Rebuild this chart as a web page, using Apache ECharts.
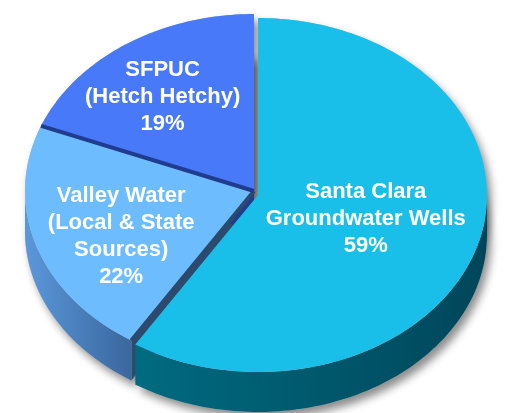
<!DOCTYPE html>
<html>
<head>
<meta charset="utf-8">
<script src="https://cdn.jsdelivr.net/npm/echarts@6/dist/echarts.min.js"></script>
<style>
html, body { margin: 0; padding: 0; background: #fff; }
#chart { width: 510px; height: 413px; }
</style>
</head>
<body>
<div id="chart"></div>
<script>
// data
const names = ['Santa Clara\nGroundwater Wells', 'Valley Water\n(Local & State\nSources)', 'SFPUC\n(Hetch Hetchy)'];
const values = [59, 22, 19];

// styles
const topColors = ['#19bfe9', '#6dbcfd', '#4779f9'];
const wallColors = [['#006b80', '#00465a'], ['#5a98dc', '#3a679d'], ['#3a62c8', '#2a4a9a']];
const faceColors = ['#0a4f66', '#2b4a6e', '#1f3c8e'];
const explode = [[4, 4], [0, 0], [0, 0]];
const labelR = [0.49, 0.61, 0.71];
const labelDy = [0, 12, 10];

const CX = 254, CY = 191, RX = 229, RY = 177, DEPTH = 40;
const total = values.reduce((a, b) => a + b, 0);
const starts = [];
let acc = 0;
values.forEach(v => { starts.push(acc / total * Math.PI * 2); acc += v; });

// angle measured clockwise from 12 o'clock, squashed to an ellipse
function pt(t, ox, oy, dz) {
  return [CX + ox + RX * Math.sin(t), CY + oy - RY * Math.cos(t) + (dz || 0)];
}
function arc(t1, t2, ox, oy, dz) {
  const n = Math.max(2, Math.ceil((t2 - t1) / 0.02));
  const pts = [];
  for (let k = 0; k <= n; k++) pts.push(pt(t1 + (t2 - t1) * k / n, ox, oy, dz));
  return pts;
}

function renderItem(params, api) {
  const i = params.dataIndex;
  const v = api.value(0);
  const t1 = starts[i];
  const t2 = t1 + v / total * Math.PI * 2;
  const ox = explode[i][0], oy = explode[i][1];
  const apex = [CX + ox, CY + oy];
  const children = [];

  const top = [apex].concat(arc(t1, t2, ox, oy, 0));

  // drop shadow under the slice
  [0, DEPTH].forEach(dz => {
    children.push({
      type: 'polygon', z2: 0, silent: true,
      shape: { points: top.map(p => [p[0], p[1] + dz]) },
      style: { fill: '#bdbdbd', shadowBlur: 9, shadowColor: 'rgba(0,0,0,0.45)', shadowOffsetX: 4, shadowOffsetY: 6 }
    });
  });

  // cut faces that look toward the viewer
  const faces = [];
  if (Math.sin(t1) < -1e-6) faces.push(t1);
  if (Math.sin(t2) > 1e-6) faces.push(t2);
  faces.forEach(t => {
    const r = pt(t, ox, oy, 0);
    children.push({
      type: 'polygon', z2: 1, silent: true,
      shape: { points: [apex, r, [r[0], r[1] + DEPTH], [apex[0], apex[1] + DEPTH]] },
      style: { fill: faceColors[i] }
    });
  });

  // front wall
  const w1 = Math.max(t1, Math.PI / 2), w2 = Math.min(t2, Math.PI * 1.5);
  if (w2 > w1) {
    const upper = arc(w1, w2, ox, oy, 0);
    const lower = arc(w1, w2, ox, oy, DEPTH).reverse();
    children.push({
      type: 'polygon', z2: 2, silent: true,
      shape: { points: upper.concat(lower) },
      style: {
        fill: new echarts.graphic.LinearGradient(0, 0, 1, 0, [
          { offset: 0, color: wallColors[i][0] },
          { offset: 1, color: wallColors[i][1] }
        ])
      }
    });
  }

  // top face
  children.push({
    type: 'polygon', z2: 3,
    shape: { points: top },
    style: { fill: topColors[i] }
  });

  // dark seam on the visible start edge
  if (Math.sin(t1) < -1e-6) {
    children.push({
      type: 'polyline', z2: 4, silent: true,
      shape: { points: [apex, pt(t1, ox, oy, 0)] },
      style: { stroke: faceColors[i], lineWidth: 4, fill: null }
    });
  }

  // label
  const mid = (t1 + t2) / 2;
  const lp = [
    CX + ox + labelR[i] * RX * Math.sin(mid),
    CY + oy - labelR[i] * RY * Math.cos(mid) + labelDy[i]
  ];
  children.push({
    type: 'text', z2: 10, silent: true,
    x: lp[0], y: lp[1],
    style: {
      text: names[i] + '\n' + v + '%',
      fill: '#ffffff',
      font: 'bold 22px "Liberation Sans", Arial, sans-serif',
      align: 'center',
      verticalAlign: 'middle',
      lineHeight: 27
    }
  });

  return { type: 'group', children: children };
}

const chart = echarts.init(document.getElementById('chart'));
chart.setOption({
  animation: false,
  series: [{
    type: 'custom',
    coordinateSystem: 'none',
    renderItem: renderItem,
    data: values.map((v, i) => ({ name: names[i], value: [v] }))
  }]
});
window.addEventListener('resize', () => chart.resize());
</script>
</body>
</html>
